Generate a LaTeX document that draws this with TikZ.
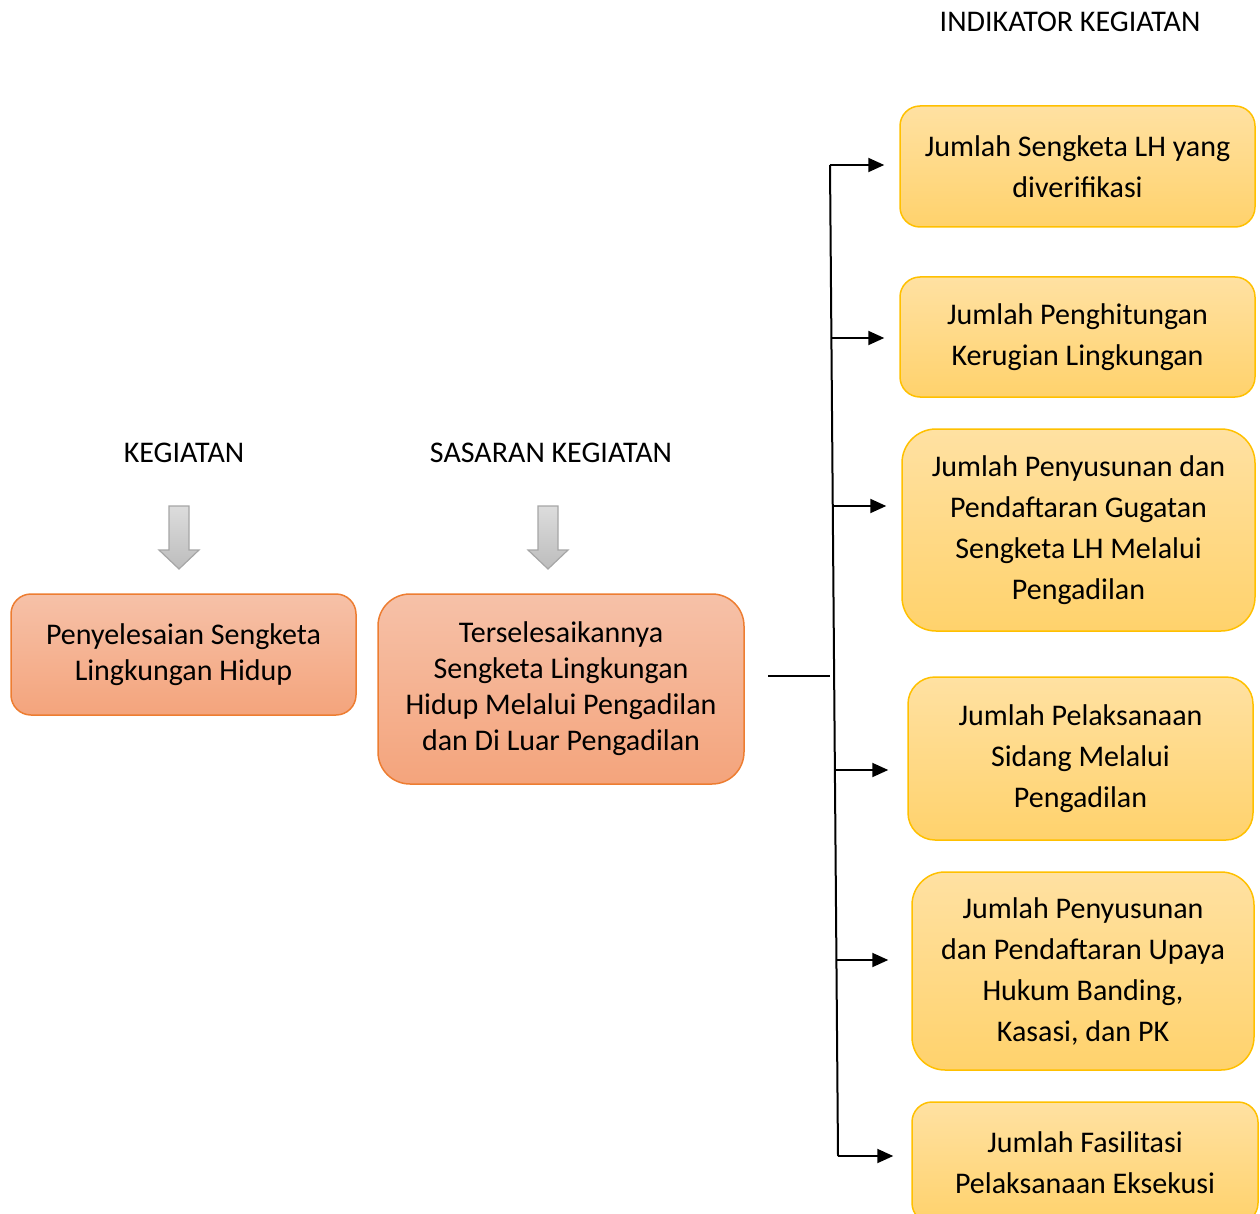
\documentclass[tikz,border=0pt]{standalone}
\usepackage{fontspec}
\setmainfont{Carlito}
\usetikzlibrary{arrows.meta}

\definecolor{orangeedge}{HTML}{ED7D31}
\definecolor{salmontop}{HTML}{F6C1A8}
\definecolor{salmonbot}{HTML}{F4A47C}
\definecolor{goldedge}{HTML}{FFC000}
\definecolor{goldtop}{HTML}{FFE1A2}
\definecolor{goldbot}{HTML}{FFD26C}
\definecolor{greyedge}{HTML}{A6A6A6}
\definecolor{greytop}{HTML}{DCDCDC}
\definecolor{greybot}{HTML}{BDBDBD}

\tikzset{
  box/.style={draw, line width=1.5pt, align=center, inner sep=0pt},
  actbox/.style={box, draw=orangeedge, top color=salmontop, bottom color=salmonbot,
    font=\fontsize{30}{36}\selectfont},
  indbox/.style={box, draw=goldedge, top color=goldtop, bottom color=goldbot,
    font=\fontsize{30}{41}\selectfont},
  heading/.style={font=\fontsize{30}{36}\selectfont, inner sep=0pt},
  link/.style={line width=2pt, -{Triangle[length=16pt,width=14pt]}},
  trunk/.style={line width=2pt},
  downarrow/.style={draw=greyedge, line width=1.2pt, top color=greytop, bottom color=greybot},
}

\begin{document}
\begin{tikzpicture}[x=1pt, y=-1pt]
  \useasboundingbox (0,0) rectangle (1260,1214);
  \clip (0,0) rectangle (1260,1214);

  % column headings
  \node[heading] (hKeg) at (184,453) {KEGIATAN};
  \node[heading] (hSas) at (551,453) {SASARAN KEGIATAN};
  \node[heading] (hInd) at (1070,22) {INDIKATOR KEGIATAN};

  % grey block arrows under the headings
  \path[downarrow] (169,506) -- (189,506) -- (189,550) -- (199,550) -- (179,569)
    -- (159,550) -- (169,550) -- cycle;
  \path[downarrow] (538,506) -- (558,506) -- (558,550) -- (568,550) -- (548,569)
    -- (528,550) -- (538,550) -- cycle;

  % activity and target
  \node[actbox, minimum width=345pt, minimum height=121pt, rounded corners=20pt]
    (keg) at (183.5,654.5) {Penyelesaian Sengketa\\Lingkungan Hidup};
  \node[actbox, minimum width=366pt, minimum height=190pt, rounded corners=32pt]
    (sas) at (561,689) {Terselesaikannya\\Sengketa Lingkungan\\Hidup Melalui Pengadilan\\dan Di Luar Pengadilan};

  % indicators
  \node[indbox, minimum width=355pt, minimum height=121pt, rounded corners=20pt]
    (i1) at (1077.5,166.5) {Jumlah Sengketa LH yang\\diverifikasi};
  \node[indbox, minimum width=355pt, minimum height=120pt, rounded corners=20pt]
    (i2) at (1077.5,337) {Jumlah Penghitungan\\Kerugian Lingkungan};
  \node[indbox, minimum width=353pt, minimum height=202pt, rounded corners=34pt]
    (i3) at (1078.5,530) {Jumlah Penyusunan dan\\Pendaftaran Gugatan\\Sengketa LH Melalui\\Pengadilan};
  \node[indbox, minimum width=345pt, minimum height=163pt, rounded corners=27pt]
    (i4) at (1080.5,758.5) {Jumlah Pelaksanaan\\Sidang Melalui\\Pengadilan};
  \node[indbox, minimum width=342pt, minimum height=198pt, rounded corners=33pt]
    (i5) at (1083,971) {Jumlah Penyusunan\\dan Pendaftaran Upaya\\Hukum Banding,\\Kasasi, dan PK};
  \node[indbox, minimum width=346pt, minimum height=121pt, rounded corners=20pt]
    (i6) at (1085,1162.5) {Jumlah Fasilitasi\\Pelaksanaan Eksekusi};

  % branching connector
  \coordinate (feedA) at (768,676);
  \coordinate (feedB) at (830,676);
  \coordinate (tTop) at (830,165);
  \coordinate (tBot) at (838,1156);
  \coordinate (s1) at (830,165);
  \coordinate (s2) at (831.4,338);
  \coordinate (s3) at (832.8,506);
  \coordinate (s4) at (834.9,770);
  \coordinate (s5) at (836.4,960);
  \coordinate (s6) at (838,1156);

  \draw[trunk] (feedA) -- (feedB);
  \draw[trunk] (tTop) -- (tBot);
  \draw[link, shorten >=15pt] (s1) -- (s1 -| i1.west);
  \draw[link, shorten >=15pt] (s2) -- (s2 -| i2.west);
  \draw[link, shorten >=15pt] (s3) -- (s3 -| i3.west);
  \draw[link, shorten >=19pt] (s4) -- (s4 -| i4.west);
  \draw[link, shorten >=23pt] (s5) -- (s5 -| i5.west);
  \draw[link, shorten >=18pt] (s6) -- (s6 -| i6.west);
\end{tikzpicture}
\end{document}
